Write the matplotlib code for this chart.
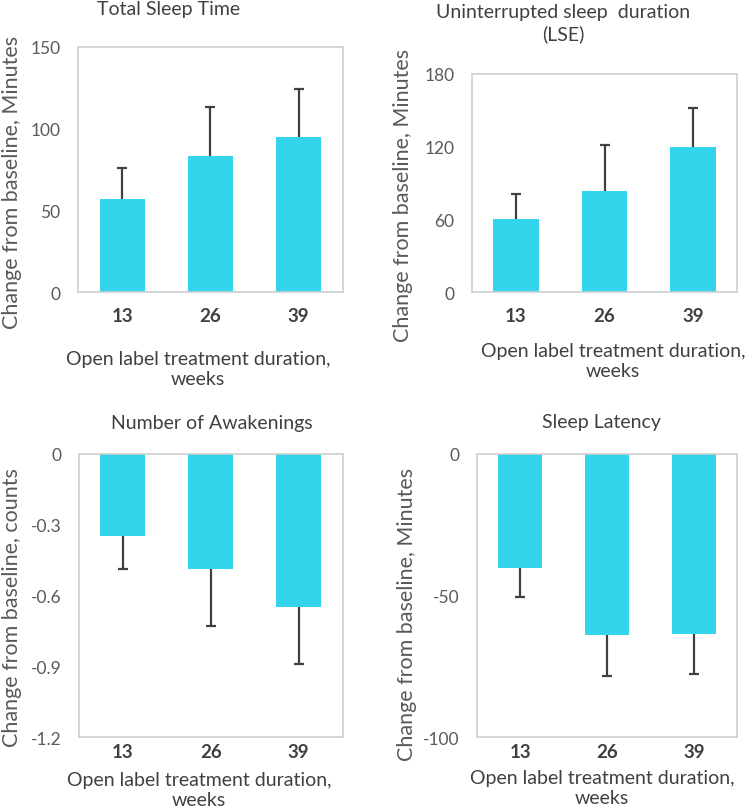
import matplotlib
matplotlib.use("Agg")
import matplotlib.pyplot as plt
import numpy as np

plt.rcParams['font.family'] = ['Lato', 'DejaVu Sans']

weeks = ["13", "26", "39"]

tst_mean = [57, 83, 95]
tst_err = [19, 30, 29]

lse_mean = [60, 83, 120]
lse_err = [21, 38, 32]

awk_mean = [-0.35, -0.49, -0.65]
awk_err = [0.14, 0.24, 0.24]

lat_mean = [-40.5, -64, -63.6]
lat_err = [10, 14.5, 14]

BAR = "#33D4EC"
ERR = "#404040"
SPINE = "#D0D0D0"
TXT = "#404040"
TICK = "#595959"

fig = plt.figure(figsize=(7.5, 8.12), dpi=100)

rects = [
    [0.104, 0.639, 0.353, 0.302],
    [0.629, 0.639, 0.354, 0.269],
    [0.105, 0.091, 0.352, 0.349],
    [0.636, 0.091, 0.347, 0.349],
]

panels = [
    dict(mean=tst_mean, err=tst_err, ylim=(0, 150), yticks=[0, 50, 100, 150],
         yticklabels=["0", "50", "100", "150"],
         title="Total Sleep Time", tx=0.343, ty=1.155,
         ylabel="Change from baseline, Minutes", ylx=-0.249, yly=0.453,
         xlx=0.453, xly=-0.312, xpad=10.5, neg=False),
    dict(mean=lse_mean, err=lse_err, ylim=(0, 180), yticks=[0, 60, 120, 180],
         yticklabels=["0", "60", "120", "180"],
         title="Uninterrupted sleep  duration\n(LSE)", tx=0.343, ty=1.234,
         ylabel="Change from baseline, Minutes", ylx=-0.26, yly=0.445,
         xlx=0.532, xly=-0.312, xpad=10.5, neg=False),
    dict(mean=awk_mean, err=awk_err, ylim=(-1.2, 0), yticks=[-1.2, -0.9, -0.6, -0.3, 0],
         yticklabels=["-1.2", "-0.9", "-0.6", "-0.3", "0"],
         title="Number of Awakenings", tx=0.504, ty=1.11,
         ylabel="Change from baseline, counts", ylx=-0.254, yly=0.459,
         xlx=0.455, xly=-0.186, xpad=4, neg=True),
    dict(mean=lat_mean, err=lat_err, ylim=(-100, 0), yticks=[-100, -50, 0],
         yticklabels=["-100", "-50", "0"],
         title="Sleep Latency", tx=0.48, ty=1.113,
         ylabel="Change from baseline, Minutes", ylx=-0.269, yly=0.438,
         xlx=0.48, xly=-0.178, xpad=4, neg=True),
]

x = np.arange(len(weeks))
for rect, p in zip(rects, panels):
    ax = fig.add_axes(rect)
    mean = np.array(p["mean"], dtype=float)
    err = np.array(p["err"], dtype=float)
    zeros = np.zeros_like(err)
    yerr = [err, zeros] if p["neg"] else [zeros, err]
    ax.bar(x, mean, width=0.51, color=BAR, zorder=2)
    eb = ax.errorbar(x, mean, yerr=yerr, fmt="none", ecolor=ERR, elinewidth=1.6,
                     capsize=3.5, capthick=1.6, zorder=3)
    # hide caps sitting on the bar end (zero-length side)
    for cl in eb[1]:
        yd = np.asarray(cl.get_ydata(), dtype=float)
        if np.allclose(yd, mean):
            cl.set_visible(False)
    ax.set_xlim(-0.5, 2.5)
    ax.set_ylim(*p["ylim"])
    ax.set_yticks(p["yticks"])
    ax.set_yticklabels(p["yticklabels"])
    ax.set_xticks(x)
    ax.set_xticklabels(weeks, fontweight="bold")
    ax.tick_params(axis="x", length=0, pad=p["xpad"], labelsize=13.5, labelcolor=TXT)
    ax.tick_params(axis="y", length=0, pad=12.5, labelsize=12.5, labelcolor=TICK)
    for s in ax.spines.values():
        s.set_color(SPINE)
        s.set_linewidth(1.2)
    ax.set_title(p["title"], x=p["tx"], y=p["ty"], va="center", fontsize=14,
                 color=TXT, linespacing=1.25, pad=0)
    ax.set_ylabel(p["ylabel"], fontsize=15.5, color=TICK, va="center")
    ax.yaxis.set_label_coords(p["ylx"], p["yly"])
    ax.set_xlabel("Open label treatment duration,\nweeks", fontsize=14, color=TXT,
                  va="center", linespacing=1.2)
    ax.xaxis.set_label_coords(p["xlx"], p["xly"])

fig.savefig("out.png", dpi=100)
